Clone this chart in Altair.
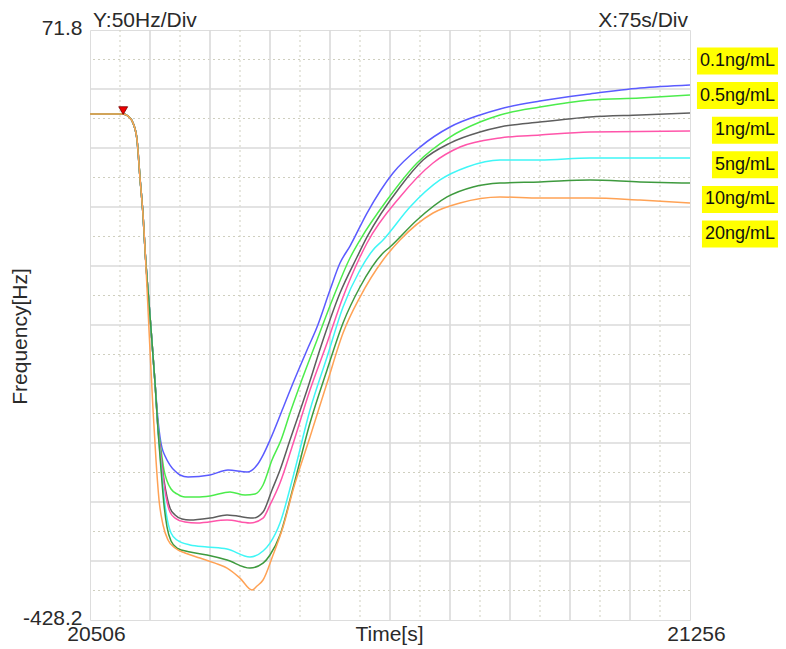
import altair as alt
import pandas as pd

# ---------------- axis extents / labels ----------------
x_min, x_max = 20506, 21256
y_min, y_max = -428.2, 71.8
x_title = "Time[s]"
y_title = "Frequency[Hz]"
y_div_text = "Y:50Hz/Div"
x_div_text = "X:75s/Div"
conc_labels = ["0.1ng/mL", "0.5ng/mL", "1ng/mL", "5ng/mL", "10ng/mL", "20ng/mL"]

# ---------------- data (time [s], frequency [Hz]) ----------------
drop_t = [20506, 20531, 20547, 20553.5, 20559.8, 20564.8, 20568.5, 20572.3, 20574.8, 20581, 20587.3]
drop_v = [0.6, 0.6, 0.6, -1.1, -7.0, -21.4, -53.6, -85.0, -114.6, -170.6, -227.4]

blue_t = [20591, 20593.5, 20596, 20599.8, 20606, 20612.3, 20618.5, 20628.5, 20656, 20678.5, 20702.3,
          20714.8, 20722.3, 20731, 20747.3, 20759.8, 20777.3, 20789.8, 20806, 20818.5, 20831, 20852.3,
          20884.8, 20918.5, 20956, 20993.5, 21018.5, 21068.5, 21131, 21193.5, 21256]
blue_v = [-258.7, -273.1, -282.4, -289.2, -296.9, -302.0, -305.3, -307.0, -305.3, -301.1, -302.8,
          -296.9, -288.4, -275.7, -248.5, -227.4, -199.4, -179.9, -148.5, -125.7, -111.3, -83.3,
          -49.4, -27.4, -10.4, -0.2, 4.9, 11.6, 17.6, 22.6, 25.2]

green_t = [20591, 20594.8, 20598.5, 20602.3, 20607.3, 20614.8, 20624.8, 20639.8, 20656, 20681, 20699.8,
           20712.3, 20722.3, 20733.5, 20744.8, 20756, 20768.5, 20789.8, 20809.8, 20831, 20843.5, 20877.3,
           20914.8, 20956, 20993.5, 21018.5, 21068.5, 21131, 21193.5, 21256]
green_v = [-263.0, -284.1, -301.1, -310.4, -317.2, -321.4, -324.0, -324.0, -323.1, -319.7, -322.3,
           -321.4, -313.8, -292.6, -275.7, -252.8, -229.0, -190.9, -155.3, -121.4, -106.2, -72.3,
           -40.9, -18.9, -6.2, -0.2, 6.5, 12.5, 14.2, 16.7]

gray_t = [20591, 20594.8, 20598.5, 20602.3, 20606, 20612.3, 20621, 20631, 20656, 20677.3, 20709.8,
          20722.3, 20733.5, 20743.5, 20756, 20777.3, 20797.3, 20818.5, 20839.8, 20852.3, 20893.5,
          20922.3, 20956, 20993.5, 21018.5, 21068.5, 21131, 21193.5, 21256]
gray_v = [-265.5, -288.4, -309.6, -324.0, -333.3, -339.2, -342.6, -343.5, -341.8, -339.2, -341.8,
          -336.7, -318.0, -301.1, -275.7, -233.3, -190.9, -151.1, -120.6, -103.6, -61.2,
          -38.4, -24.0, -14.6, -10.4, -6.2, -1.9, -0.2, 1.5]

pink_t = [20591, 20594.8, 20598.5, 20602.3, 20606, 20612.3, 20624.8, 20639.8, 20677.3, 20706, 20722.3,
          20731, 20743.5, 20758.5, 20781, 20802.3, 20822.3, 20843.5, 20852.3, 20893.5, 20934.8,
          20968.5, 21018.5, 21068.5, 21131, 21256]
pink_v = [-265.5, -290.1, -313.0, -328.2, -336.7, -341.8, -345.2, -346.0, -343.5, -346.0, -341.8,
          -330.7, -312.1, -281.6, -233.3, -193.5, -154.5, -120.6, -108.7, -69.7, -40.9,
          -27.4, -19.7, -17.2, -14.6, -13.8]

cyan_t = [20591, 20594.8, 20598.5, 20602.3, 20607.3, 20614.8, 20631, 20652.3, 20677.3, 20706, 20722.3,
          20731, 20743.5, 20759.8, 20781, 20802.3, 20822.3, 20843.5, 20859.8, 20872.3, 20906, 20943.5,
          20977.3, 21018.5, 21068.5, 21131, 21256]
cyan_v = [-267.2, -296.9, -324.0, -341.8, -354.5, -360.4, -364.6, -366.3, -368.0, -374.8, -369.7,
          -363.0, -346.0, -307.0, -250.2, -205.3, -162.9, -131.6, -114.6, -106.2, -78.2, -55.3,
          -44.3, -38.4, -38.4, -36.7, -36.7]

dkgreen_t = [20591, 20594.8, 20598.5, 20602.3, 20607.3, 20614.8, 20631, 20652.3, 20677.3, 20706, 20722.3,
             20731, 20743.5, 20759.8, 20781, 20802.3, 20822.3, 20843.5, 20872.3, 20881, 20914.8, 20952.3,
             20984.8, 21018.5, 21068.5, 21131, 21193.5, 21256]
dkgreen_v = [-267.2, -301.1, -330.7, -349.4, -361.3, -367.2, -370.6, -373.1, -377.4, -384.2, -380.0,
             -373.1, -356.2, -316.3, -261.3, -216.3, -176.5, -146.0, -117.2, -112.1, -89.2, -69.7,
             -61.2, -57.9, -57.0, -55.3, -57.0, -57.9]

orange_t = [20581, 20584.8, 20588.5, 20592.3, 20597.3, 20603.5, 20612.3, 20624.8, 20643.5, 20662.3, 20677.3,
            20693.5, 20708.5, 20714.8, 20722.3, 20734.8, 20747.3, 20759.8, 20781, 20802.3, 20822.3,
            20843.5, 20872.3, 20893.5, 20934.8, 20968.5, 21018.5, 21068.5, 21131, 21193.5, 21256]
orange_v = [-199.4, -250.2, -292.6, -326.5, -347.7, -360.4, -367.2, -371.4, -375.7, -380.0, -384.2,
            -392.7, -402.8, -399.4, -394.3, -373.1, -349.4, -318.0, -273.1, -227.4, -185.0,
            -154.5, -123.1, -106.2, -83.3, -74.8, -69.7, -70.6, -70.6, -72.3, -74.8]

marker_t = [20547.5]
marker_v = [3.5]

# ---------------- build table ----------------
series = [
    ("blue", blue_t, blue_v, len(drop_t), "#5b5bff"),
    ("green", green_t, green_v, len(drop_t), "#4cec4c"),
    ("gray", gray_t, gray_v, len(drop_t), "#5e5e5e"),
    ("pink", pink_t, pink_v, len(drop_t), "#ff55aa"),
    ("cyan", cyan_t, cyan_v, len(drop_t), "#3ff6f6"),
    ("dkgreen", dkgreen_t, dkgreen_v, len(drop_t), "#3e9a3e"),
    ("orange", orange_t, orange_v, 8, "#ffa255"),
]
rows = []
for name, ts, vs, npre, _c in series:
    tt = drop_t[:npre] + ts
    vv = drop_v[:npre] + vs
    for k, (t, v) in enumerate(zip(tt, vv)):
        rows.append({"series": name, "t": t, "v": v, "k": k})
df = pd.DataFrame(rows)
names = [s[0] for s in series]
colors = [s[4] for s in series]

FONT = "Liberation Sans"
TXT = "#2a2a2a"

xscale = alt.Scale(domain=[x_min, x_max], nice=False, zero=False)
yscale = alt.Scale(domain=[y_min, y_max], nice=False, zero=False)

xaxis = alt.Axis(values=[x_min, x_max], format="d", grid=False, domain=False, ticks=False,
                 labelFont=FONT, labelFontSize=21, labelColor=TXT, labelPadding=20,
                 labelBaseline="alphabetic", labelOffset=6, labelFlush=False,
                 title=x_title, titleFont=FONT, titleFontSize=21, titleFontWeight="normal",
                 titleColor=TXT, titleX=299, titleY=20, titleBaseline="alphabetic", titleAlign="center")
yaxis = alt.Axis(values=[y_min, y_max], grid=False, domain=False, ticks=False,
                 labelExpr="(datum.value < 0 ? '-' : '') + format(abs(datum.value), '.1f')",
                 labelFont=FONT, labelFontSize=21, labelColor=TXT, labelPadding=8,
                 labelBaseline="middle", labelFlush=False, labelOffset=-2,
                 title=y_title, titleFont=FONT, titleFontSize=21, titleFontWeight="normal",
                 titleColor=TXT, titleX=-70, titleY=306, titleAngle=-90, titleBaseline="middle",
                 titleAlign="center")

# grid positions (10 divisions each way, minor at half divisions)
gx_major = [x_min + 75 * i for i in range(1, 10)]
gx_minor = [x_min + 37.5 + 75 * i for i in range(10)]
gy_major = [y_max - 50 * i for i in range(1, 10)]
gy_minor = [y_max - 25 - 50 * i for i in range(10)]

vminor = alt.Chart(pd.DataFrame({"t": gx_minor})).mark_rule(
    color="#cfcfbf", strokeWidth=1, strokeDash=[2, 3]).encode(x=alt.X("t:Q", scale=xscale, axis=xaxis))
hminor = alt.Chart(pd.DataFrame({"v": gy_minor})).mark_rule(
    color="#cfcfbf", strokeWidth=1, strokeDash=[2, 3]).encode(y=alt.Y("v:Q", scale=yscale, axis=yaxis))
vmajor = alt.Chart(pd.DataFrame({"t": gx_major})).mark_rule(
    color="#dadada", strokeWidth=1.6).encode(x=alt.X("t:Q", scale=xscale, axis=xaxis))
hmajor = alt.Chart(pd.DataFrame({"v": gy_major})).mark_rule(
    color="#dadada", strokeWidth=1.6).encode(y=alt.Y("v:Q", scale=yscale, axis=yaxis))

lines = alt.Chart(df).mark_line(strokeWidth=1.5, interpolate="monotone").encode(
    x=alt.X("t:Q", scale=xscale, axis=xaxis),
    y=alt.Y("v:Q", scale=yscale, axis=yaxis),
    color=alt.Color("series:N", scale=alt.Scale(domain=names, range=colors), legend=None),
    order=alt.Order("k:Q"),
    detail="series:N",
)

marker = alt.Chart(pd.DataFrame({"t": marker_t, "v": marker_v})).mark_point(
    shape="triangle-down", filled=True, color="#ee0000", stroke="#7a0000", strokeWidth=0.8,
    size=80, opacity=1).encode(
    x=alt.X("t:Q", scale=xscale, axis=xaxis), y=alt.Y("v:Q", scale=yscale, axis=yaxis))

top_left = alt.Chart(pd.DataFrame({"s": [y_div_text]})).mark_text(
    font=FONT, fontSize=21, color=TXT, align="left", baseline="alphabetic").encode(
    x=alt.value(3), y=alt.value(-3), text="s:N")
top_right = alt.Chart(pd.DataFrame({"s": [x_div_text]})).mark_text(
    font=FONT, fontSize=21, color=TXT, align="right", baseline="alphabetic").encode(
    x=alt.value(598), y=alt.value(-3), text="s:N")

# yellow concentration labels at the right
cw = {".": 0.278, "/": 0.278, "n": 0.556, "g": 0.556, "m": 0.833, "L": 0.556}
LFS = 18
text_right = 685
lab_rows = []
for i, lab in enumerate(conc_labels):
    w = sum(cw.get(ch, 0.556) for ch in lab) * LFS
    yc = 31 + i * 34.6
    lab_rows.append({"lab": lab, "bx": text_right - w - 3, "bx2": 700,
                     "by": yc - 13.5, "by2": yc + 13.5, "ty": yc, "tx": text_right})
labdf = pd.DataFrame(lab_rows)
boxes = alt.Chart(labdf).mark_rect(color="#ffff00").encode(
    x=alt.X("bx:Q", scale=None), x2="bx2:Q", y=alt.Y("by:Q", scale=None), y2="by2:Q")
labtext = alt.Chart(labdf).mark_text(
    font=FONT, fontSize=LFS, color="#111111", align="right", baseline="middle").encode(
    x=alt.X("tx:Q", scale=None), y=alt.Y("ty:Q", scale=None), text="lab:N")

chart = alt.layer(vminor, hminor, vmajor, hmajor, lines, marker, top_left, top_right, boxes, labtext).properties(
    width=600, height=590,
    padding={"left": 82, "top": 22, "right": 88, "bottom": 25},
    autosize=alt.AutoSizeParams(type="none"),
).configure_view(stroke="#cfcfcf", strokeWidth=1.5).configure(background="white")

chart.save("out.html", embed_options={"renderer": "svg", "actions": False})
